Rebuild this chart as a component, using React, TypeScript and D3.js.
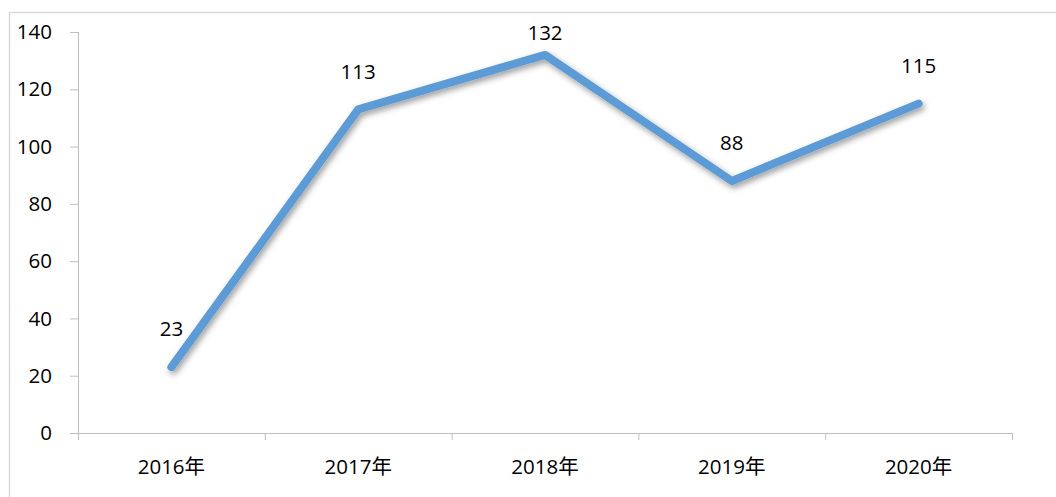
import React from "react";
import * as d3 from "d3";

const categories = ["2016年", "2017年", "2018年", "2019年", "2020年"];
const values = [23, 113, 132, 88, 115];
const yTicks = [0, 20, 40, 60, 80, 100, 120, 140];

export default function App() {
  const W = 1056, H = 497;
  const left = 78, right = 1012, top = 32, bottom = 433;
  const x = d3.scaleBand().domain(categories).range([left, right]);
  const y = d3.scaleLinear().domain([0, 140]).range([bottom, top]);
  const line = d3
    .line<number>()
    .x((_, i) => (x(categories[i]) as number) + x.bandwidth() / 2)
    .y((d) => y(d));
  const font = "'Open Sans', 'Noto Sans CJK SC', sans-serif";
  const fs = 20.5;
  const boundaries = [...categories.map((c) => x(c) as number), right];
  return (
    <svg width={W} height={H} style={{ position: "absolute", left: 0, top: 0 }}>
      <defs>
        <filter id="sh" x="-10%" y="-10%" width="120%" height="130%">
          <feDropShadow dx="2" dy="3" stdDeviation="3" floodColor="#000" floodOpacity="0.4" />
        </filter>
      </defs>
      <rect x={0} y={0} width={W} height={H} fill="#fff" />
      <path d={`M9.5,${H} V12.5 H${W}`} fill="none" stroke="#d9d9d9" strokeWidth={1.5} />
      <line x1={left + 0.5} x2={left + 0.5} y1={top} y2={bottom} stroke="#bfbfbf" />
      {yTicks.map((t) => (
        <g key={t}>
          <line x1={left - 8} x2={left} y1={y(t) + 0.5} y2={y(t) + 0.5} stroke="#bfbfbf" />
          <text x={52} y={y(t)} dy="0.35em" textAnchor="end" fontFamily={font} fontSize={fs} fill="#000">
            {t}
          </text>
        </g>
      ))}
      <line x1={left} x2={right} y1={bottom + 0.5} y2={bottom + 0.5} stroke="#bfbfbf" />
      {boundaries.map((b, i) => (
        <line key={i} x1={b + 0.5} x2={b + 0.5} y1={bottom} y2={bottom + 7} stroke="#bfbfbf" />
      ))}
      {categories.map((c) => (
        <text key={c} x={(x(c) as number) + x.bandwidth() / 2} y={467} dy="0.35em" textAnchor="middle" fontFamily={font} fontSize={fs} fill="#000">
          {c}
        </text>
      ))}
      <path d={line(values) || ""} fill="none" stroke="#5b9bd5" strokeWidth={8} strokeLinejoin="round" strokeLinecap="round" filter="url(#sh)" />
      {values.map((v, i) => (
        <text
          key={i}
          x={(x(categories[i]) as number) + x.bandwidth() / 2}
          y={Math.max(33, y(v) - 38)}
          dy="0.35em"
          textAnchor="middle"
          fontFamily={font}
          fontSize={fs}
          fill="#000"
        >
          {v}
        </text>
      ))}
    </svg>
  );
}
